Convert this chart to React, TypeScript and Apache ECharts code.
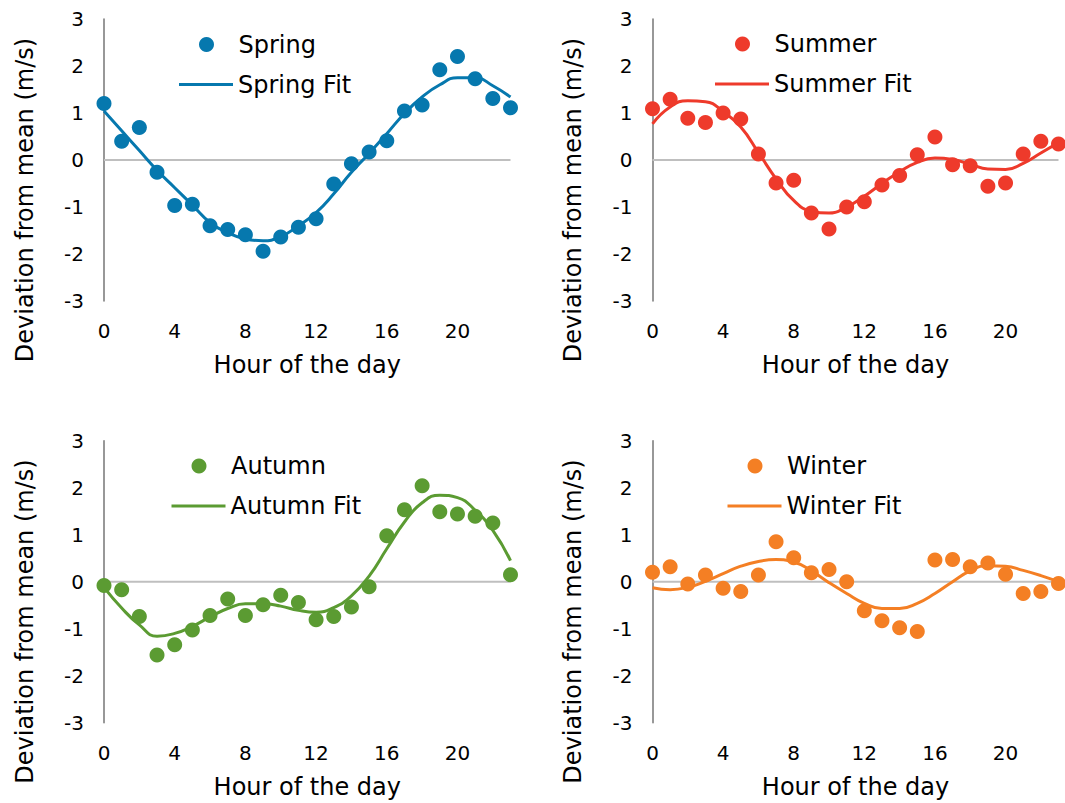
import { useEffect, useRef } from "react";
import * as echarts from "echarts";

// Hour of the day (x values shared by every panel)
const hours = [0, 1, 2, 3, 4, 5, 6, 7, 8, 9, 10, 11, 12, 13, 14, 15, 16, 17, 18, 19, 20, 21, 22, 23];

// Hourly deviation of wind speed from the seasonal mean (m/s)
const springObs = [1.2, 0.4, 0.69, -0.26, -0.97, -0.94, -1.4, -1.48, -1.59, -1.94, -1.64, -1.43, -1.25, -0.51, -0.08, 0.17, 0.41, 1.04, 1.17, 1.92, 2.2, 1.73, 1.31, 1.11];
const springFit = [1.04, 0.62, 0.2, -0.22, -0.59, -0.96, -1.33, -1.55, -1.68, -1.72, -1.63, -1.4, -1.12, -0.72, -0.26, 0.14, 0.56, 0.99, 1.34, 1.6, 1.75, 1.75, 1.58, 1.34];

const summerObs = [1.09, 1.29, 0.89, 0.8, 1.0, 0.87, 0.13, -0.49, -0.43, -1.13, -1.47, -1.0, -0.89, -0.53, -0.33, 0.11, 0.49, -0.1, -0.12, -0.56, -0.49, 0.13, 0.4, 0.34];
const summerFit = [0.77, 1.13, 1.26, 1.24, 1.03, 0.7, 0.16, -0.4, -0.86, -1.09, -1.13, -1.0, -0.77, -0.5, -0.25, -0.05, 0.04, 0.01, -0.09, -0.19, -0.2, -0.07, 0.15, 0.37];

const autumnObs = [-0.08, -0.17, -0.74, -1.56, -1.34, -1.03, -0.72, -0.37, -0.72, -0.49, -0.29, -0.44, -0.81, -0.74, -0.54, -0.11, 0.98, 1.53, 2.04, 1.49, 1.44, 1.39, 1.25, 0.15];
const autumnFit = [-0.12, -0.56, -0.92, -1.16, -1.1, -0.95, -0.75, -0.57, -0.47, -0.47, -0.52, -0.61, -0.65, -0.55, -0.3, 0.12, 0.7, 1.27, 1.68, 1.84, 1.79, 1.52, 1.09, 0.45];

const winterObs = [0.2, 0.32, -0.05, 0.14, -0.14, -0.21, 0.14, 0.85, 0.51, 0.19, 0.26, 0.0, -0.62, -0.83, -0.98, -1.06, 0.46, 0.47, 0.32, 0.4, 0.16, -0.25, -0.21, -0.04];
const winterFit = [-0.13, -0.17, -0.12, 0.01, 0.17, 0.33, 0.43, 0.47, 0.42, 0.23, -0.02, -0.25, -0.46, -0.57, -0.57, -0.46, -0.25, 0.0, 0.23, 0.34, 0.33, 0.24, 0.13, 0.0];

// Axis ticks
const xMin = 0;
const xMax = 23;
const xStep = 4;
const yMin = -3;
const yMax = 3;
const yStep = 1;

const xTitle = "Hour of the day";
const yTitle = "Deviation from mean (m/s)";

const FONT = "'DejaVu Sans', Verdana, sans-serif";

const panels = [
  { name: "Spring", obs: springObs, fit: springFit, color: "#0678AE",
    grid: { left: 104, top: 19, width: 406.5, height: 282 },
    legendLeft: 179, legendTops: [32.5, 72.5], titleX: 25, titleY: 200 },
  { name: "Summer", obs: summerObs, fit: summerFit, color: "#EE3A2B",
    grid: { left: 652.5, top: 19, width: 406, height: 282 },
    legendLeft: 715, legendTops: [32, 72], titleX: 573, titleY: 200 },
  { name: "Autumn", obs: autumnObs, fit: autumnFit, color: "#5B9B32",
    grid: { left: 104, top: 440.7, width: 406.5, height: 282 },
    legendLeft: 171.5, legendTops: [454, 494], titleX: 25, titleY: 621.5 },
  { name: "Winter", obs: winterObs, fit: winterFit, color: "#F47F24",
    grid: { left: 652.5, top: 440.7, width: 406, height: 282 },
    legendLeft: 727.5, legendTops: [454, 494], titleX: 573, titleY: 621.5 },
];

function buildOption() {
  const grid: any[] = [];
  const xAxis: any[] = [];
  const yAxis: any[] = [];
  const series: any[] = [];
  const legend: any[] = [];
  const graphic: any[] = [];

  panels.forEach((p, i) => {
    grid.push({ ...p.grid, containLabel: false });
    xAxis.push({
      type: "value", gridIndex: i, min: xMin, max: xMax, interval: xStep,
      axisLine: { show: false }, axisTick: { show: false }, splitLine: { show: false },
      axisLabel: { fontSize: 20, color: "#000", margin: 20, fontFamily: FONT, showMaxLabel: false },
      name: xTitle, nameLocation: "middle", nameGap: 52,
      nameTextStyle: { fontSize: 24, color: "#000", fontFamily: FONT },
    });
    yAxis.push({
      type: "value", gridIndex: i, min: yMin, max: yMax, interval: yStep,
      axisLine: { show: true, onZero: false, lineStyle: { color: "#767676", width: 1.5 } },
      axisTick: { show: false }, splitLine: { show: false },
      axisLabel: { fontSize: 20, color: "#000", margin: 20, fontFamily: FONT },
    });

    // zero reference line across the hour range
    series.push({
      type: "line", name: "zero-" + i, xAxisIndex: i, yAxisIndex: i,
      data: [[xMin, 0], [xMax, 0]], symbol: "none", silent: true, z: 1,
      lineStyle: { color: "#BFBFBF", width: 2 },
    });
    series.push({
      type: "line", name: p.name + " Fit", xAxisIndex: i, yAxisIndex: i,
      data: hours.map((h, k) => [h, p.fit[k]]), smooth: true, symbol: "none", z: 2,
      lineStyle: { color: p.color, width: 3 }, itemStyle: { color: p.color },
    });
    series.push({
      type: "scatter", name: p.name, xAxisIndex: i, yAxisIndex: i,
      data: hours.map((h, k) => [h, p.obs[k]]), symbol: "circle", symbolSize: 15, z: 3,
      itemStyle: { color: p.color, opacity: 1 },
    });

    const textStyle = { fontSize: 24, color: "#000", fontFamily: FONT };
    // marker entry: circle icon
    legend.push({
      left: p.legendLeft + 20, top: p.legendTops[0], orient: "vertical", padding: 0,
      itemWidth: 54, itemHeight: 15, selectedMode: false, textStyle,
      data: [{ name: p.name, icon: "circle" }],
    });
    // fitted curve entry: short solid stroke
    legend.push({
      left: p.legendLeft, top: p.legendTops[1], orient: "vertical", padding: 0,
      itemWidth: 54, itemHeight: 3, selectedMode: false, textStyle,
      data: [{ name: p.name + " Fit", icon: "rect", itemStyle: { color: p.color } }],
    });

    graphic.push({
      type: "text", x: p.titleX, y: p.titleY, rotation: Math.PI / 2,
      style: { text: yTitle, fontSize: 24, fill: "#000", fontFamily: FONT, align: "center", verticalAlign: "middle" },
    });
  });

  return { animation: false, backgroundColor: "#fff", grid, xAxis, yAxis, series, legend, graphic };
}

export default function App() {
  const ref = useRef<HTMLDivElement>(null);
  useEffect(() => {
    document.body.style.margin = "0";
    if (!ref.current) return;
    const chart = echarts.init(ref.current, undefined, { renderer: "svg" });
    chart.setOption(buildOption());
    return () => chart.dispose();
  }, []);
  return <div ref={ref} style={{ width: 1065, height: 803 }} />;
}
